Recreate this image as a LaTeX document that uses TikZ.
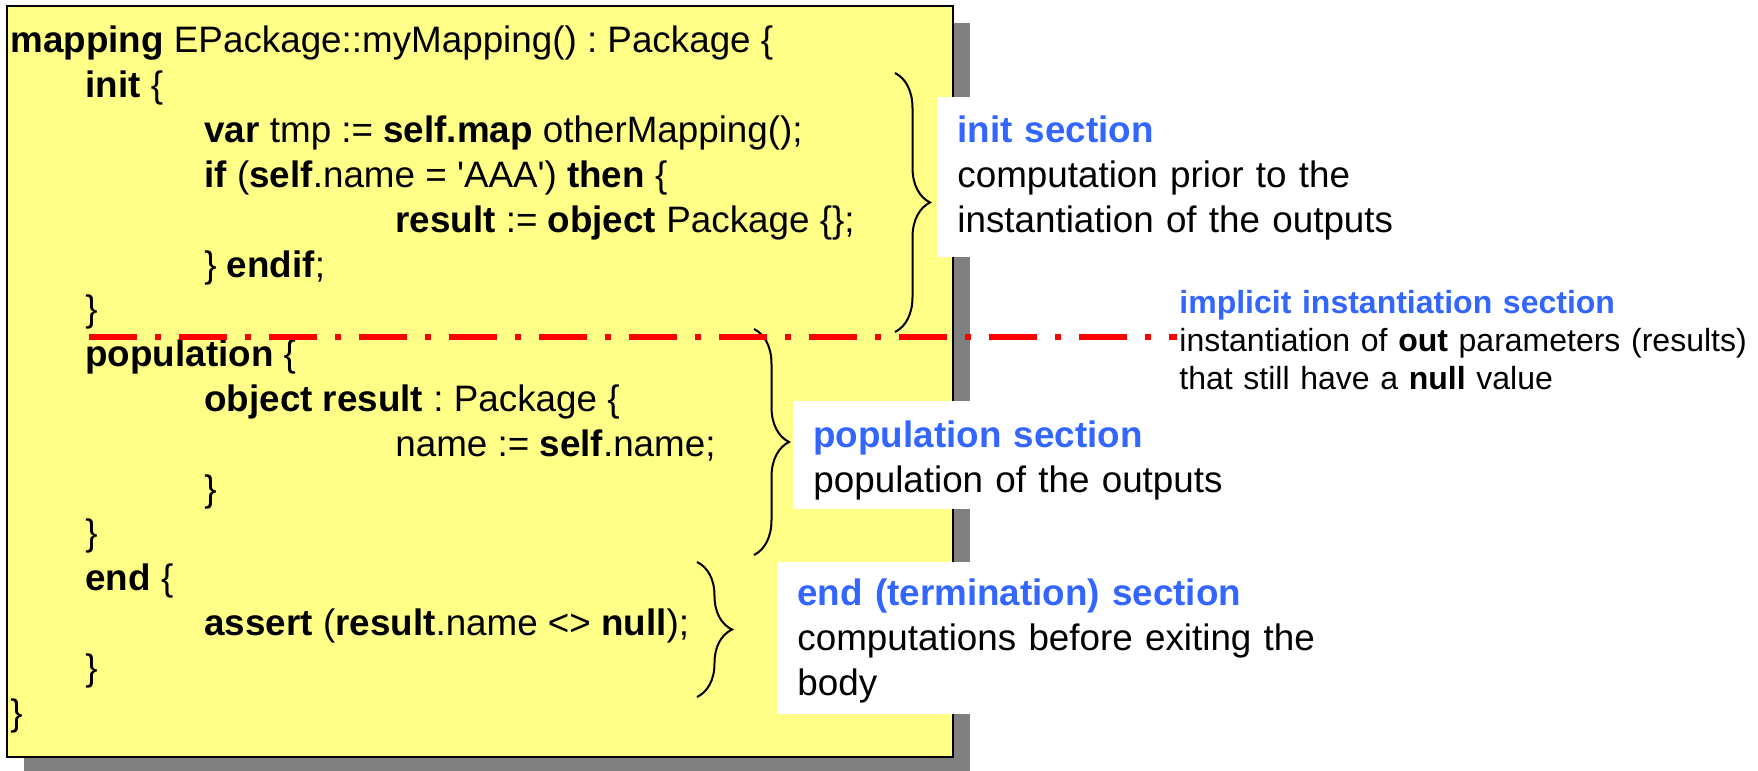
\documentclass[tikz,border=0pt]{standalone}
\usepackage{fontspec}
\setmainfont{Liberation Sans}
\usetikzlibrary{decorations.pathreplacing}
\definecolor{notebg}{RGB}{255,255,136}
\definecolor{secblue}{RGB}{51,102,255}
\definecolor{shadowgray}{RGB}{128,128,128}
\newcommand{\kw}[1]{\textbf{#1}}
\newcommand{\sq}{\textquotesingle}
\frenchspacing
\begin{document}
\begin{tikzpicture}[x=0.5pt,y=-0.5pt,
  code/.style={anchor=base west, inner sep=0pt, font=\fontsize{18.4pt}{22.4pt}\selectfont\frenchspacing},
  annot/.style={anchor=base west, fill=white, inner xsep=10pt, inner ysep=0pt,
    text width=270pt, align=left, font=\fontsize{18.4pt}{22.5pt}\selectfont\frenchspacing},
  implicitnote/.style={anchor=base west, inner sep=0pt, text width=288pt, align=left,
    font=\fontsize{16pt}{19pt}\selectfont\frenchspacing},
  codebrace/.style={draw=black, line width=1pt, decorate,
    decoration={brace, amplitude=17.5pt}},
  cutline/.style={draw=red, line width=3pt, dash pattern=on 24pt off 9pt on 3pt off 9pt}
]
\useasboundingbox (0,0) rectangle (1758,771);

% note sheet with drop shadow
\fill[shadowgray] (24,23) rectangle (970,774);
\filldraw[fill=notebg, draw=black, line width=1pt] (7,6) rectangle (953,757);

% mapping body
\node[code] (c1)  at (10,53)    {\kw{mapping} EPackage::myMapping() : Package \{};
\node[code] (c2)  at (85,97.8)  {\kw{init} \{};
\node[code] (c3)  at (204,142.6) {\kw{var} tmp := \kw{self.map} otherMapping();};
\node[code] (c4)  at (204,187.4) {\kw{if} (\kw{self}.name = \sq AAA\sq) \kw{then} \{};
\node[code] (c5)  at (395,232.2) {\kw{result} := \kw{object} Package \{\};};
\node[code] (c6)  at (204,277)   {\} \kw{endif};};
\node[code] (c7)  at (85,321.8)  {\}};
\node[code] (c8)  at (85,366.6)  {\kw{population} \{};
\node[code] (c9)  at (204,411.4) {\kw{object result} : Package \{};
\node[code] (c10) at (395,456.2) {name := \kw{self}.name;};
\node[code] (c11) at (204,501)   {\}};
\node[code] (c12) at (85,545.8)  {\}};
\node[code] (c13) at (85,590.6)  {\kw{end} \{};
\node[code] (c14) at (204,635.4) {\kw{assert} (\kw{result}.name <> \kw{null});};
\node[code] (c15) at (85,680.2)  {\}};
\node[code] (c16) at (10,725)    {\}};

% braces marking the three sections
\coordinate (initTop) at (895,73);
\coordinate (initBot) at (895,332);
\coordinate (popTop)  at (754,329);
\coordinate (popBot)  at (754,555);
\coordinate (endTop)  at (697,562);
\coordinate (endBot)  at (697,697);
\draw[codebrace] (initTop) -- (initBot);
\draw[codebrace] (popTop) -- (popBot);
\draw[codebrace] (endTop) -- (endBot);

% boundary of the implicit instantiation
\coordinate (cutL) at (89,337);
\coordinate (cutR) at (1177,337);
\draw[cutline] (cutL) -- (cutR);

% section notes
\node[annot, text height=22.5pt, text depth=57.5pt] (initnote) at (937,142)
  {\textcolor{secblue}{\textbf{init section}}\\
   computation prior to the\\
   instantiation of the outputs};
\node[annot, text height=23pt, text depth=31pt] (popnote) at (793,447)
  {\textcolor{secblue}{\textbf{population section}}\\
   population of the outputs};
\node[annot, text height=21.5pt, text depth=54.5pt] (endnote) at (777,605)
  {\textcolor{secblue}{\textbf{end (termination) section}}\\
   computations before exiting the\\
   body};
\node[implicitnote] (implnote) at (1179,313)
  {\textcolor{secblue}{\textbf{implicit instantiation section}}\\
   instantiation of \textbf{out} parameters (results)\\
   that still have a \textbf{null} value};
\end{tikzpicture}
\end{document}
